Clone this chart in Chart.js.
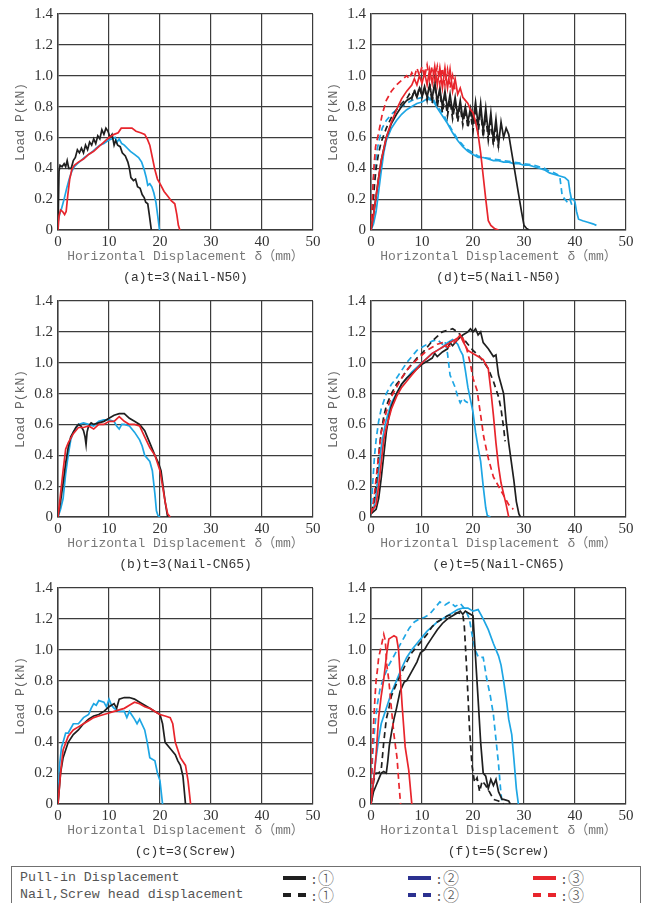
<!DOCTYPE html>
<html>
<head>
<meta charset="utf-8">
<script src="https://cdn.jsdelivr.net/npm/chart.js@4.4.1/dist/chart.umd.min.js"></script>
<style>
  html, body { margin: 0; padding: 0; background: #fff; }
  body { width: 651px; height: 903px; position: relative; overflow: hidden; }
  canvas { position: absolute; }
  .lg-box { position: absolute; left: 11px; top: 866px; width: 628px; height: 60px; border: 1.5px solid #707070; }
  .lg-text { position: absolute; font-family: "Liberation Mono", "DejaVu Sans Mono", monospace; font-size: 13.3px; color: #555; line-height: 16px; white-space: nowrap; }
  .lg-line { position: absolute; height: 4px; }
</style>
</head>
<body>
<canvas id="pa" width="326" height="287" style="left:0px;top:0px"></canvas>
<canvas id="pd" width="326" height="287" style="left:313px;top:0px"></canvas>
<canvas id="pb" width="326" height="287" style="left:0px;top:287px"></canvas>
<canvas id="pe" width="326" height="287" style="left:313px;top:287px"></canvas>
<canvas id="pc" width="326" height="287" style="left:0px;top:574px"></canvas>
<canvas id="pf" width="326" height="287" style="left:313px;top:574px"></canvas>

<div class="lg-box"></div>
<div id="legend"></div>

<script>
// 軸の目盛り
const xTicks = [0, 10, 20, 30, 40, 50];
const yTicks = [0, 0.2, 0.4, 0.6, 0.8, 1.0, 1.2, 1.4];

// 凡例
const legendRows = ["Pull-in Displacement", "Nail,Screw head displacement"];
const legendMarks = ["①", "②", "③"];

// (a) t=3 Nail-N50  [変位mm, 荷重kN]
const aPull1 = [[0,0],[0.2,0.38],[0.4,0.42],[0.8,0.41],[1.2,0.43],[1.5,0.41],[1.8,0.45],[2.1,0.40],[2.6,0.40],[3.0,0.45],[3.4,0.47],[3.8,0.52],[4.2,0.50],[4.6,0.53],[5.0,0.50],[5.4,0.55],[5.8,0.52],[6.2,0.57],[6.6,0.55],[7.0,0.59],[7.4,0.56],[7.8,0.61],[8.2,0.59],[8.6,0.65],[9.0,0.62],[9.4,0.66],[9.8,0.64],[10.2,0.60],[10.6,0.62],[11.0,0.55],[11.3,0.58],[11.7,0.55],[12.2,0.54],[12.6,0.50],[13.2,0.48],[13.7,0.44],[14.0,0.40],[14.3,0.34],[14.8,0.32],[15.2,0.33],[15.6,0.28],[16.1,0.27],[16.5,0.23],[16.9,0.21],[17.2,0.18],[17.6,0.17],[17.9,0.10],[18.3,0]];
const aPull2 = [[0,0.05],[0.3,0.10],[0.7,0.14],[1.2,0.20],[1.7,0.27],[2.2,0.33],[2.7,0.38],[3.2,0.41],[3.8,0.43],[4.5,0.45],[5.2,0.47],[6.0,0.49],[6.8,0.51],[7.5,0.53],[8.2,0.55],[9.0,0.56],[9.8,0.58],[10.5,0.59],[11.2,0.60],[11.6,0.57],[12.0,0.59],[12.5,0.56],[13.0,0.55],[13.6,0.53],[14.2,0.51],[15.0,0.49],[15.8,0.47],[16.4,0.44],[16.9,0.39],[17.3,0.34],[17.6,0.29],[18.0,0.30],[18.4,0.28],[18.8,0.24],[19.2,0.18],[19.6,0.08],[19.9,0]];
const aPull3 = [[0,0],[0.2,0.09],[0.5,0.13],[0.9,0.12],[1.3,0.10],[1.6,0.12],[1.9,0.22],[2.3,0.33],[2.7,0.39],[3.2,0.42],[4,0.44],[5,0.46],[6,0.49],[7,0.51],[8,0.54],[9,0.57],[10,0.60],[11,0.62],[11.8,0.63],[12.4,0.66],[13.5,0.66],[14.5,0.66],[15.3,0.64],[16.2,0.63],[17,0.62],[17.5,0.59],[18,0.55],[18.5,0.47],[19,0.39],[19.5,0.33],[20,0.30],[20.8,0.25],[21.5,0.22],[22.2,0.19],[22.9,0.17],[23.3,0.10],[23.6,0.03],[23.9,0]];

// (b) t=3 Nail-CN65
const bPull1 = [[0,0],[0.5,0.10],[1,0.22],[1.5,0.35],[2,0.45],[2.5,0.52],[3,0.55],[3.5,0.58],[4,0.60],[4.5,0.59],[5,0.56],[5.3,0.52],[5.5,0.47],[5.7,0.55],[6,0.59],[6.5,0.61],[7,0.60],[8,0.61],[9,0.62],[10,0.64],[11,0.66],[12,0.67],[13,0.67],[14,0.64],[15,0.62],[16,0.60],[17,0.56],[18,0.48],[19,0.40],[19.7,0.35],[20.2,0.30],[20.6,0.20],[21,0.10],[21.5,0]];
const bPull2 = [[0,0],[0.5,0.05],[1,0.12],[1.5,0.28],[2,0.40],[2.5,0.50],[3,0.55],[4,0.60],[5,0.61],[6,0.60],[7,0.59],[8,0.62],[9,0.63],[10,0.63],[11,0.62],[11.5,0.59],[12,0.57],[12.5,0.60],[13,0.60],[14,0.59],[15,0.55],[16,0.50],[16.5,0.46],[17,0.40],[18,0.36],[18.5,0.30],[19,0.15],[19.3,0.04],[19.6,0.01],[20,0]];
const bPull3 = [[0,0],[0.5,0.15],[1,0.30],[1.5,0.44],[2,0.48],[3,0.54],[4,0.58],[5,0.58],[6,0.59],[7,0.57],[8,0.60],[9,0.60],[10,0.62],[11,0.62],[12,0.65],[13,0.62],[14,0.60],[15,0.60],[16,0.59],[17,0.52],[18,0.45],[19,0.40],[20,0.30],[20.5,0.20],[21,0.10],[21.5,0.02],[22,0]];

// (c) t=3 Screw
const cPull1 = [[0,0],[0.5,0.20],[1,0.30],[2,0.40],[3,0.45],[4,0.48],[5,0.52],[6,0.55],[7,0.57],[8,0.58],[9,0.60],[10,0.63],[11,0.65],[11.5,0.62],[12,0.68],[13,0.69],[14,0.69],[15,0.68],[16,0.66],[17,0.64],[18,0.62],[19,0.60],[20,0.58],[20.5,0.52],[21,0.40],[22,0.36],[23,0.32],[23.5,0.28],[24,0.25],[24.5,0.18],[25,0]];
const cPull2 = [[0,0],[0.3,0.25],[0.7,0.37],[1,0.40],[1.5,0.46],[2,0.46],[3,0.52],[4,0.52],[5,0.56],[6,0.58],[6.5,0.62],[7,0.65],[7.5,0.64],[8,0.67],[9,0.66],[9.5,0.63],[10,0.68],[10.5,0.64],[11,0.62],[12,0.60],[13,0.60],[13.5,0.56],[14,0.60],[15,0.55],[15.5,0.52],[16,0.55],[17,0.48],[17.5,0.40],[18,0.30],[19,0.28],[19.5,0.20],[20,0.15],[20.5,0]];
const cPull3 = [[0,0],[0.5,0.20],[1,0.35],[2,0.44],[3,0.48],[4,0.50],[5,0.52],[6,0.54],[7,0.56],[8,0.57],[9,0.58],[10,0.59],[11,0.60],[12,0.61],[13,0.62],[14,0.64],[15,0.66],[16,0.65],[17,0.63],[18,0.62],[19,0.60],[20,0.58],[21,0.57],[22,0.56],[22.5,0.52],[23,0.40],[24,0.30],[25,0.25],[25.5,0.15],[26,0]];

// (d) t=5 Nail-N50
const dPull1 = [[0,0],[0.5,0.10],[1,0.22],[1.5,0.34],[2,0.45],[3,0.60],[4,0.69],[5,0.75],[6,0.80],[7,0.84],[8,0.86],[8.5,0.90],[9,0.86],[9.5,0.92],[10,0.87],[10.5,0.93],[11,0.86],[11.5,0.94],[12,0.85],[12.5,0.96],[13,0.83],[13.5,0.92],[14,0.80],[14.5,0.90],[15,0.78],[15.5,0.88],[16,0.76],[16.5,0.86],[17,0.74],[17.5,0.84],[18,0.72],[18.5,0.80],[19,0.70],[19.5,0.79],[20,0.70],[20.5,0.83],[21,0.68],[21.5,0.82],[22,0.64],[22.5,0.79],[23,0.62],[23.5,0.76],[24,0.58],[24.5,0.72],[25,0.55],[25.5,0.70],[26,0.60],[26.5,0.66],[27,0.62],[27.5,0.52],[28,0.42],[28.5,0.32],[29,0.22],[29.5,0.12],[30,0.03],[30.5,0.01],[31,0]];
const dHead1 = [[0,0],[0.3,0.12],[0.7,0.30],[1,0.40],[1.5,0.50],[2,0.57],[3,0.66],[4,0.73],[5,0.78],[6,0.82],[7,0.85],[7.5,0.88],[8,0.85],[8.5,0.91],[9,0.86],[9.5,0.93],[10,0.86],[10.5,0.92],[11,0.84],[11.5,0.95],[12,0.82],[12.5,0.97],[13,0.80],[13.5,0.90],[14,0.76],[14.5,0.86],[15,0.74],[15.5,0.84],[16,0.72],[16.5,0.82],[17,0.70],[17.5,0.80],[18,0.68],[18.5,0.78],[19,0.66],[19.5,0.76],[20,0.64],[20.5,0.80],[21,0.62],[21.5,0.78],[22,0.60],[22.5,0.74],[23,0.58],[23.5,0.70],[24,0.55],[24.5,0.66],[25,0.53]];
const dPull2 = [[0,0],[0.5,0.04],[1,0.12],[1.5,0.25],[2,0.38],[2.5,0.50],[3,0.58],[4,0.66],[5,0.71],[6,0.75],[7,0.78],[8,0.80],[9,0.82],[10,0.83],[11,0.85],[12,0.84],[12.5,0.82],[13,0.79],[14,0.74],[15,0.69],[16,0.63],[17,0.58],[18,0.54],[19,0.51],[20,0.49],[21,0.47],[22,0.47],[23,0.46],[24,0.45],[25,0.45],[26,0.44],[27,0.44],[28,0.43],[29,0.43],[30,0.42],[31,0.42],[32,0.41],[33,0.40],[34,0.39],[35,0.37],[36,0.36],[37,0.35],[38,0.34],[38.7,0.32],[39,0.25],[39.3,0.20],[39.7,0.20],[40,0.18],[40.3,0.12],[40.7,0.07],[41.5,0.06],[42.5,0.05],[43.5,0.04],[44.2,0.03]];
const dHead2 = [[0,0],[0.2,0.15],[0.5,0.33],[0.8,0.42],[1.2,0.52],[1.7,0.60],[2.2,0.66],[3,0.71],[4,0.75],[5,0.78],[6,0.80],[7,0.82],[8,0.84],[9,0.85],[10,0.86],[11,0.87],[11.5,0.85],[12,0.86],[12.5,0.83],[13,0.80],[14,0.76],[15,0.70],[16,0.64],[17,0.59],[18,0.55],[19,0.52],[20,0.50],[21,0.48],[22,0.47],[24,0.46],[26,0.45],[28,0.44],[30,0.43],[32,0.42],[34,0.40],[35,0.38],[36,0.37],[37,0.35],[37.5,0.22],[38,0.20],[38.5,0.18],[39,0.20],[39.5,0.15]];
const dPull3 = [[0,0],[0.5,0.10],[1,0.22],[1.5,0.34],[2,0.45],[3,0.60],[4,0.70],[5,0.78],[6,0.85],[7,0.90],[8,0.94],[8.5,0.98],[9,0.94],[9.5,1.00],[10,0.95],[10.5,1.02],[11,0.94],[11.5,1.04],[12,0.95],[12.5,1.06],[13,0.94],[13.5,1.05],[14,0.92],[14.5,1.05],[15,0.92],[15.5,1.04],[16,0.90],[16.5,0.98],[17,0.88],[17.5,0.92],[18,0.86],[18.5,0.84],[19,0.82],[19.5,0.78],[20,0.76],[20.5,0.70],[21,0.62],[21.5,0.50],[22,0.35],[22.5,0.20],[23,0.06],[23.5,0.03],[24.2,0.01],[25,0]];
const dHead3 = [[0,0],[0.2,0.15],[0.4,0.30],[0.6,0.42],[0.9,0.54],[1.5,0.63],[2.2,0.75],[3,0.84],[4,0.90],[5,0.94],[6,0.97],[7,1.00],[7.5,0.98],[8,1.02],[8.5,0.99],[9,1.05],[9.5,1.00],[10,1.06],[10.5,0.99],[11,1.07],[11.5,0.98],[12,1.06],[12.5,0.97],[13,1.06],[13.5,0.95],[14,1.05],[14.5,0.94],[15,1.04],[15.5,0.92],[16,1.00],[16.5,0.90]];

// (e) t=5 Nail-CN65
const ePull1 = [[0,0.02],[1,0.05],[1.5,0.12],[2,0.25],[2.5,0.40],[3,0.55],[3.5,0.65],[4,0.72],[5,0.80],[6,0.86],[7,0.90],[8,0.93],[9,0.96],[10,0.99],[11,1.01],[12,1.03],[12.5,1.06],[13,1.04],[14,1.07],[15,1.09],[15.5,1.13],[16,1.11],[17,1.15],[18,1.18],[19,1.20],[19.5,1.22],[20,1.20],[20.5,1.22],[21,1.18],[21.5,1.20],[22,1.13],[23,1.09],[24,1.04],[24.5,1.05],[25,0.92],[25.5,0.86],[26,0.80],[26.5,0.62],[27,0.48],[27.5,0.36],[28,0.24],[28.5,0.10],[29,0.02],[29.3,0]];
const eHead1 = [[0,0.03],[0.5,0.08],[1,0.20],[1.5,0.40],[2,0.55],[2.5,0.65],[3,0.72],[4,0.80],[5,0.86],[6,0.90],[7,0.95],[8,0.99],[9,1.03],[10,1.06],[11,1.10],[12,1.14],[13,1.17],[14,1.20],[15,1.21],[16,1.22],[17,1.20],[18,1.16],[19,1.12],[20,1.08],[21,1.05],[22,1.01],[23,0.96],[24,0.88],[25,0.78],[25.5,0.70],[26,0.58],[26.3,0.49]];
const ePull2 = [[0,0.02],[0.5,0.05],[1,0.15],[1.5,0.30],[2,0.45],[2.5,0.55],[3,0.63],[4,0.74],[5,0.80],[6,0.86],[7,0.90],[8,0.94],[9,0.97],[10,1.00],[11,1.03],[12,1.06],[13,1.08],[14,1.10],[15,1.13],[16,1.15],[17,1.12],[17.5,1.08],[18,1.05],[18.5,0.95],[19,0.84],[20,0.68],[20.5,0.55],[21,0.45],[21.5,0.36],[22,0.20],[22.5,0.06],[22.8,0.01],[23.4,0]];
const eHead2 = [[0,0.02],[0.3,0.20],[0.7,0.40],[1,0.50],[1.5,0.62],[2,0.70],[3,0.80],[4,0.86],[5,0.90],[6,0.95],[7,1.00],[8,1.04],[9,1.08],[10,1.10],[11,1.12],[12,1.14],[13,1.15],[14,1.12],[14.5,1.14],[15,1.06],[15.5,0.92],[16,0.88],[16.5,0.84],[17,0.78],[17.5,0.74],[18,0.77],[18.5,0.75],[19,0.74]];
const ePull3 = [[0,0.03],[1,0.08],[1.5,0.20],[2,0.35],[2.5,0.50],[3,0.58],[4,0.70],[5,0.78],[6,0.84],[7,0.88],[8,0.92],[9,0.96],[10,1.00],[11,1.03],[12,1.06],[13,1.08],[14,1.10],[15,1.12],[16,1.14],[17,1.16],[17.5,1.18],[18,1.14],[19,1.08],[20,1.06],[21,1.04],[22,1.02],[23,0.96],[23.5,0.82],[24,0.66],[24.5,0.48],[25,0.33],[25.5,0.22],[26,0.15],[26.5,0.08],[27,0]];
const eHead3 = [[0,0.02],[0.5,0.10],[1,0.25],[1.5,0.40],[2,0.55],[3,0.68],[4,0.78],[5,0.84],[6,0.90],[7,0.95],[8,0.99],[9,1.02],[10,1.05],[11,1.08],[12,1.10],[13,1.12],[14,1.13],[15,1.10],[16,1.12],[17,1.15],[18,1.16],[18.5,1.12],[19,1.06],[19.5,0.99],[20,0.90],[20.8,0.82],[21.5,0.66],[22.1,0.52],[23,0.38],[24,0.26],[25,0.20],[26,0.14],[27,0.08],[27.9,0.05]];

// (f) t=5 Screw
const fPull1 = [[0,0],[0.5,0.08],[1,0.12],[1.5,0.16],[2,0.20],[2.5,0.21],[3,0.20],[3.3,0.28],[3.6,0.38],[4,0.46],[4.5,0.55],[5,0.62],[5.7,0.73],[6.5,0.79],[7,0.80],[8,0.86],[9,0.92],[9.7,0.98],[10.5,1.00],[11,1.03],[12,1.08],[13,1.13],[14,1.17],[15,1.20],[16,1.22],[17,1.24],[17.5,1.25],[18,1.23],[18.5,1.25],[19,1.24],[19.5,1.23],[20,1.22],[20.5,0.95],[21,0.68],[21.5,0.40],[22,0.20],[22.5,0.18],[23,0.10],[23.5,0.16],[24,0.12],[24.5,0.16],[25,0.08],[25.7,0.03],[26,0.03],[27,0.02],[27.3,0]];
const fHead1 = [[0,0],[0.5,0.15],[1,0.20],[1.5,0.20],[2,0.22],[2.5,0.40],[3,0.55],[3.5,0.62],[4,0.70],[5,0.78],[6,0.85],[7,0.92],[8,0.98],[9,1.02],[10,1.06],[11,1.10],[12,1.15],[13,1.18],[14,1.20],[15,1.22],[16,1.23],[17,1.24],[18,1.23],[18.3,1.15],[18.8,0.85],[19.3,0.50],[19.8,0.25],[20.3,0.14],[20.8,0.17],[21.3,0.08],[21.8,0.15],[22.5,0.12],[23.2,0.08],[24,0.03],[25,0.02],[26,0]];
const fPull2 = [[0,0],[0.5,0.15],[1,0.30],[1.5,0.42],[2,0.52],[3,0.62],[4,0.72],[5,0.80],[6,0.88],[7,0.95],[8,1.00],[9,1.04],[10,1.08],[11,1.12],[12,1.15],[13,1.18],[14,1.20],[15,1.22],[16,1.24],[17,1.26],[18,1.27],[19,1.27],[20,1.25],[21,1.26],[22,1.20],[23,1.13],[24,1.04],[25,0.96],[25.5,0.90],[26,0.80],[26.6,0.66],[27,0.55],[27.6,0.45],[28,0.30],[28.5,0.10],[28.9,0]];
const fHead2 = [[0,0],[0.3,0.30],[0.7,0.48],[1.2,0.64],[1.8,0.75],[2.5,0.82],[3.5,0.90],[4.5,0.96],[5.5,1.02],[6.5,1.08],[7.5,1.14],[8.5,1.18],[9.5,1.20],[10.5,1.21],[11.5,1.23],[12.5,1.27],[13.5,1.31],[14.5,1.29],[15.5,1.31],[16.5,1.28],[17.5,1.30],[18.5,1.26],[19.3,1.20],[19.8,1.10],[20.4,1.00],[21.1,0.95],[22,0.95],[22.7,0.81],[23.4,0.70],[24,0.58],[24.5,0.42],[25,0.26],[25.4,0.10],[25.7,0]];
const fPull3 = [[0,0],[0.5,0.15],[1,0.32],[1.5,0.56],[2,0.70],[2.5,0.81],[3.1,0.98],[3.5,1.07],[4,1.08],[4.5,1.09],[5,1.08],[5.4,1.00],[5.8,0.80],[6.1,0.64],[6.7,0.37],[7.4,0.22],[8,0]];
const fHead3 = [[0,0],[0.2,0.30],[0.5,0.52],[0.8,0.70],[1,0.80],[1.3,0.88],[1.5,0.95],[2,1.02],[2.5,1.10],[2.8,1.06],[3.1,0.90],[3.5,0.80],[4,0.62],[4.5,0.45],[5.1,0.30],[5.5,0.12],[5.8,0]];

const BLACK = "#1f1f1f";
const BLUE = "#1ea6e4";
const RED = "#e8252c";
const NAVY = "#2b3190";
const GRID = "#3c3c3c";
const MONO = "'Liberation Mono', 'DejaVu Sans Mono', 'Noto Sans CJK SC', monospace";
const SERIF = "'Liberation Serif', 'DejaVu Serif', serif";

// パネル定義
const panels = [
  { id: "pa", caption: "(a)t=3(Nail-N50)", yTitle: "Load P(kN)",
    series: [[aPull3, RED, false], [aPull1, BLACK, false], [aPull2, BLUE, false]] },
  { id: "pb", caption: "(b)t=3(Nail-CN65)", yTitle: "Load P(kN)",
    series: [[bPull3, RED, false], [bPull1, BLACK, false], [bPull2, BLUE, false]] },
  { id: "pc", caption: "(c)t=3(Screw)", yTitle: "Load P(kN)",
    series: [[cPull3, RED, false], [cPull1, BLACK, false], [cPull2, BLUE, false]] },
  { id: "pd", caption: "(d)t=5(Nail-N50)", yTitle: "Load P(kN)",
    series: [[dPull3, RED, false], [dHead3, RED, true], [dPull1, BLACK, false], [dHead1, BLACK, true], [dPull2, BLUE, false], [dHead2, BLUE, true]] },
  { id: "pe", caption: "(e)t=5(Nail-CN65)", yTitle: "Load P(kN)",
    series: [[ePull3, RED, false], [eHead3, RED, true], [ePull1, BLACK, false], [eHead1, BLACK, true], [ePull2, BLUE, false], [eHead2, BLUE, true]] },
  { id: "pf", caption: "(f)t=5(Screw)", yTitle: "LOad P(kN)",
    series: [[fPull3, RED, false], [fHead3, RED, true], [fPull1, BLACK, false], [fHead1, BLACK, true], [fPull2, BLUE, false], [fHead2, BLUE, true]] },
];

function makeChart(p) {
  const ctx = document.getElementById(p.id);
  new Chart(ctx, {
    type: "line",
    data: {
      datasets: p.series.map(([pts, color, dashed]) => ({
        data: pts.map(([x, y]) => ({ x, y })),
        borderColor: color,
        borderWidth: 1.7,
        borderDash: dashed ? [6, 4] : [],
        pointRadius: 0,
        tension: 0,
        fill: false,
      })),
    },
    options: {
      responsive: false,
      animation: false,
      layout: { padding: { top: 12, right: 13, bottom: 0, left: 0 } },
      plugins: {
        legend: { display: false },
        tooltip: { enabled: false },
        title: {
          display: true,
          position: "bottom",
          fullSize: false,
          text: p.caption,
          color: "#333",
          font: { family: MONO, size: 13, weight: "normal", lineHeight: 1.2 },
          padding: { top: 2, bottom: 2 },
        },
      },
      scales: {
        x: {
          type: "linear",
          min: 0,
          max: 50,
          afterBuildTicks: (s) => { s.ticks = xTicks.map((v) => ({ value: v })); },
          afterFit: (s) => { s.height = 37.4; },
          grid: { color: GRID, lineWidth: 1.2, drawTicks: false },
          border: { color: GRID, width: 1.5 },
          ticks: { padding: 3, color: "#333", maxRotation: 0, font: { family: SERIF, size: 15 } },
          title: {
            display: true,
            text: "Horizontal Displacement δ（mm）",
            color: "#777",
            font: { family: MONO, size: 13, lineHeight: 1.2 },
            padding: { top: 0, bottom: 2.6 },
          },
        },
        y: {
          min: 0,
          max: 1.4,
          afterBuildTicks: (s) => { s.ticks = yTicks.map((v) => ({ value: v })); },
          afterFit: (s) => { s.width = 58; },
          grid: { color: GRID, lineWidth: 1.2, drawTicks: false },
          border: { color: GRID, width: 1.5 },
          ticks: {
            padding: 5,
            color: "#333",
            font: { family: SERIF, size: 15 },
            callback: (v) => (v === 0 ? "0" : v.toFixed(1)),
          },
          title: {
            display: true,
            text: p.yTitle,
            color: "#666",
            font: { family: MONO, size: 13, lineHeight: 1.2 },
            padding: { top: 13, bottom: 0 },
          },
        },
      },
    },
  });
}

panels.forEach(makeChart);

// 凡例（HTML）
function buildLegend() {
  const root = document.getElementById("legend");
  const rowY = [870, 887];
  const colX = [283, 408, 533];
  const colors = [BLACK, NAVY, RED];
  legendRows.forEach((label, r) => {
    const t = document.createElement("div");
    t.className = "lg-text";
    t.style.left = "20px";
    t.style.top = rowY[r] + "px";
    t.textContent = label;
    root.appendChild(t);
    colX.forEach((x, c) => {
      const lineTop = rowY[r] + 6;
      if (r === 0) {
        const l = document.createElement("div");
        l.className = "lg-line";
        l.style.left = x + "px";
        l.style.top = lineTop + "px";
        l.style.width = "23px";
        l.style.background = colors[c];
        root.appendChild(l);
      } else {
        [0, 15].forEach((dx) => {
          const l = document.createElement("div");
          l.className = "lg-line";
          l.style.left = x + dx + "px";
          l.style.top = lineTop + "px";
          l.style.width = "8px";
          l.style.background = colors[c];
          root.appendChild(l);
        });
      }
      const m = document.createElement("div");
      m.className = "lg-text";
      m.style.left = x + 27 + "px";
      m.style.top = rowY[r] - 1 + "px";
      m.innerHTML = ':<span style="font-family:\'Noto Sans CJK SC\',\'DejaVu Sans\',sans-serif;font-size:16px;font-weight:300">' + legendMarks[c] + "</span>";
      root.appendChild(m);
    });
  });
}
buildLegend();
</script>
</body>
</html>
